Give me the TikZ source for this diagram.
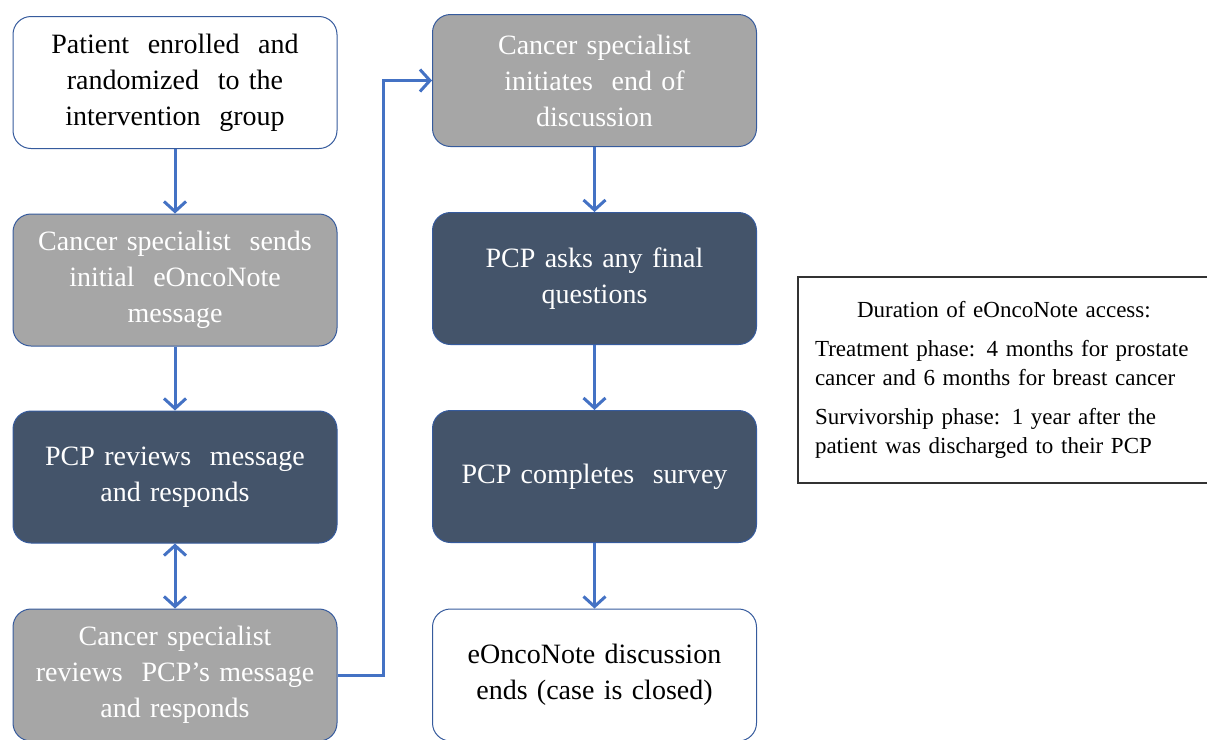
\documentclass[tikz,border=0pt]{standalone}
\usepackage{fontspec}
\setmainfont{Liberation Serif}
\usetikzlibrary{arrows.meta}
\definecolor{flowblue}{HTML}{4472C4}
\definecolor{boxgray}{HTML}{A6A6A6}
\definecolor{boxdark}{HTML}{44546A}
\begin{document}
\begin{tikzpicture}[x=0.5pt, y=-0.5pt,
        stepbox/.style={draw=flowblue!80!black, line width=0.5pt, rounded corners=9pt,
            minimum width=162pt, minimum height=66pt, text width=150pt, align=center,
            font=\fontsize{14}{18}\selectfont},
        whitebox/.style={stepbox, fill=white, text=black},
        graybox/.style={stepbox, fill=boxgray, text=white},
        darkbox/.style={stepbox, fill=boxdark, text=white},
        barb/.tip={Straight Barb[length=5pt,width=11pt]},
        flow/.style={draw=flowblue, line width=1.5pt, -barb}]
    \useasboundingbox (0,0) rectangle (1207,740);
    % left column
    \node[whitebox] (enrol) at (175,82.5) {Patient\ \ enrolled\ \ and\\ randomized\ \ to the\\ intervention\ \ group};
    \node[graybox] (send) at (175,280) {Cancer specialist\ \ sends\\ initial\ \ eOncoNote\\ message};
    \node[darkbox] (review) at (175,477) {PCP reviews\ \ message\\ and responds};
    \node[graybox] (reply) at (175,675) {Cancer specialist\\ reviews\ \ PCP’s message\\ and responds};
    % right column
    \node[graybox] (endinit) at (594.5,80.5) {Cancer specialist\\ initiates\ \ end of\\ discussion};
    \node[darkbox] (final) at (594.5,278.5) {PCP asks any final\\ questions};
    \node[darkbox] (survey) at (594.5,476.5) {PCP completes\ \ survey};
    \node[whitebox] (closed) at (594.5,675) {eOncoNote discussion\\ ends (case is closed)};
    % access note
    \node[draw=black!80, line width=0.6pt, minimum width=206pt, minimum height=103pt,
        inner xsep=8.5pt, text width=189pt, align=left,
        font=\fontsize{11.5}{14.5}\selectfont] (note) at (1004,380)
        {\hspace*{21pt}Duration of eOncoNote access:\\[5pt]
         Treatment phase: 4 months for prostate\\ cancer and 6 months for breast cancer\\[5pt]
         Survivorship phase: 1 year after the\\ patient was discharged to their PCP};
    % connectors
    \draw[flow] (enrol) -- (send);
    \draw[flow] (send) -- (review);
    \draw[flow, barb-barb] (review) -- (reply);
    \draw[flow] (reply.east) -- ++(46,0) |- (endinit.west);
    \draw[flow] (endinit) -- (final);
    \draw[flow] (final) -- (survey);
    \draw[flow] (survey) -- (closed);
\end{tikzpicture}
\end{document}
